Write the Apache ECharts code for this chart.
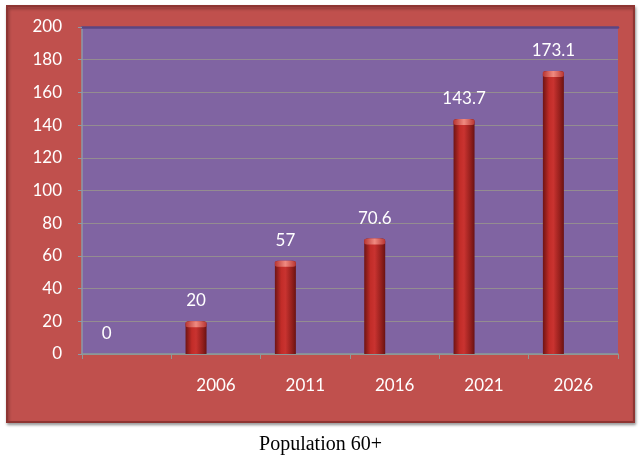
<!DOCTYPE html>
<html>
<head>
<meta charset="utf-8">
<script src="https://cdn.jsdelivr.net/npm/echarts@6/dist/echarts.min.js"></script>
<style>
  html, body { margin: 0; padding: 0; background: #ffffff; }
  #chart { width: 641px; height: 459px; }
</style>
</head>
<body>
<div id="chart"></div>
<script>
// Population aged 60+ by census year
const categories = ['', '2006', '2011', '2016', '2021', '2026'];
const population = [0, 20, 57, 70.6, 143.7, 173.1];
const yTicks = { min: 0, max: 200, interval: 20 };
const captionText = 'Population 60+';

const chart = echarts.init(document.getElementById('chart'));

const labelFont = 'Lato, "Open Sans", sans-serif';
const barShift = -20; // bars sit a little left of the category centre

const barFill = new echarts.graphic.LinearGradient(0, 0, 1, 0, [
  { offset: 0, color: '#6e1414' },
  { offset: 0.3, color: '#c22c28' },
  { offset: 0.5, color: '#c93330' },
  { offset: 0.8, color: '#96201d' },
  { offset: 1, color: '#6a1212' }
]);
const capFill = new echarts.graphic.LinearGradient(0, 0, 1, 0, [
  { offset: 0, color: '#b83532' },
  { offset: 0.5, color: '#f08a80' },
  { offset: 1, color: '#b83532' }
]);

chart.setOption({
  animation: false,
  backgroundColor: '#ffffff',
  title: {
    text: captionText,
    left: 'center',
    top: 430,
    textStyle: { fontFamily: '"Liberation Serif", "Times New Roman", serif', fontSize: 20, fontWeight: 'normal', color: '#000000' }
  },
  graphic: [
    {
      type: 'rect',
      z: -10,
      shape: { x: 7, y: 6, width: 627, height: 416 },
      style: { fill: '#c0504d', stroke: '#8e3532', lineWidth: 2, shadowBlur: 3, shadowOffsetX: 1, shadowOffsetY: 2, shadowColor: 'rgba(0,0,0,0.35)' }
    }
  ],
  grid: {
    left: 82, right: 23, top: 27, bottom: 105,
    show: true,
    backgroundColor: '#8064a2',
    borderWidth: 0
  },
  xAxis: [
    {
      type: 'category',
      data: categories,
      boundaryGap: true,
      axisLine: { show: true, lineStyle: { color: '#8c9a98', width: 1.5 } },
      axisTick: { show: true, length: 5, lineStyle: { color: '#8c9a98' } },
      axisLabel: { color: '#ffffff', fontFamily: labelFont, fontSize: 17, margin: 23 },
      splitLine: { show: false }
    },
    {
      // dark rim along the top of the back wall
      type: 'category',
      position: 'top',
      data: categories,
      axisLine: { show: true, lineStyle: { color: '#5b4682', width: 2.5 } },
      axisTick: { show: false },
      axisLabel: { show: false },
      splitLine: { show: false }
    }
  ],
  yAxis: {
    type: 'value',
    min: yTicks.min,
    max: yTicks.max,
    interval: yTicks.interval,
    axisLine: { show: true, lineStyle: { color: '#8c9aa8', width: 1.5 } },
    axisTick: { show: true, length: 4, lineStyle: { color: '#8c9aa8' } },
    axisLabel: { color: '#ffffff', fontFamily: labelFont, fontSize: 17, margin: 20 },
    splitLine: { show: true, lineStyle: { color: '#948c90', width: 1 } }
  },
  series: [
    {
      type: 'bar',
      data: population,
      barWidth: 21,
      barGap: '90%',
      itemStyle: { color: barFill, borderRadius: [3, 3, 0, 0] },
      label: {
        show: true,
        position: 'top',
        distance: 12,
        color: '#ffffff',
        fontFamily: labelFont,
        fontSize: 17
      },
      z: 2
    },
    {
      type: 'bar',
      data: population.map(() => null),
      barWidth: 21,
      silent: true
    },
    {
      type: 'pictorialBar',
      data: population.map(v => (v > 0 ? v : null)),
      symbol: 'roundRect',
      symbolSize: [21, 6],
      symbolPosition: 'end',
      symbolOffset: [barShift, 0],
      itemStyle: { color: capFill },
      silent: true,
      z: 3
    }
  ]
});
</script>
</body>
</html>
